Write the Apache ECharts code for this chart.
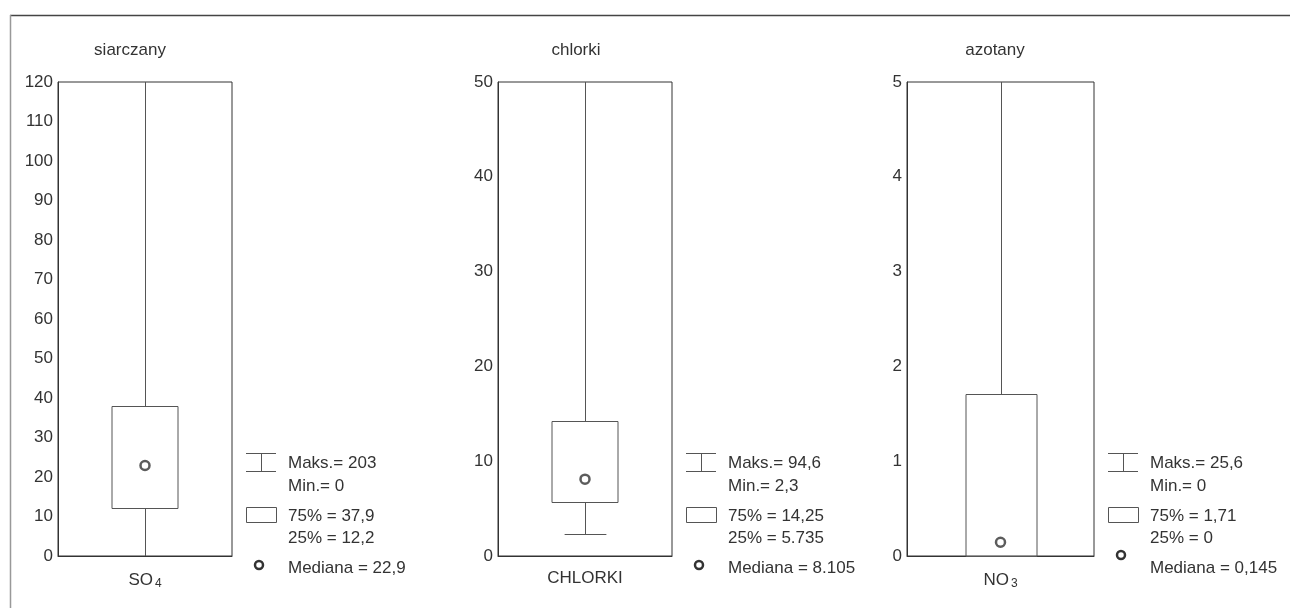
<!DOCTYPE html>
<html><head><meta charset="utf-8">
<script src="https://cdn.jsdelivr.net/npm/echarts@6/dist/echarts.min.js"></script>
<style>html,body{margin:0;padding:0;background:#fff}#c{width:1290px;height:608px}</style>
</head><body><div id="c"></div>
<script>
// ---- data ----
const titles = ['siarczany', 'chlorki', 'azotany'];
const categories = ['SO4', 'CHLORKI', 'NO3'];
const maks = [203, 94.6, 25.6];
const mins = [0, 2.3, 0];
const q75 = [37.9, 14.25, 1.71];
const q25 = [12.2, 5.735, 0];
const medians = [22.9, 8.105, 0.145];
const yMax = [120, 50, 5];
const yInterval = [10, 10, 1];
// decimal separator used in the legend text of each panel: [maks, min, 75%, 25%, median]
const legendSep = [[',', ',', ',', ',', ','], [',', ',', ',', '.', '.'], [',', ',', ',', ',', ',']];

// ---- layout ----
const FONT = '"Liberation Sans", Arial, sans-serif';
const TXT = '#333';
const grids = [
  { left: 58, top: 82, width: 174, height: 474 },
  { left: 498, top: 82, width: 174, height: 474 },
  { left: 907, top: 82, width: 187, height: 474 }
];
const titleX = [130, 576, 995];
const legendIconX = [246, 686, 1108];
const medLegendDy = [0, 0, -10];

function fmt(v, sep) { return String(v).replace('.', sep); }
function cr(v) { return Math.round(v) + 0.5; }

const chart = echarts.init(document.getElementById('c'), null, { renderer: 'canvas' });

const xAxes = [], yAxes = [], series = [], graphics = [];
grids.forEach((g, i) => {
  xAxes.push({
    type: 'category', gridIndex: i, data: [categories[i]], boundaryGap: true,
    axisLine: { show: true, lineStyle: { color: '#333', width: 1 } },
    axisTick: { show: false },
    axisLabel: {
      margin: 14, color: TXT, fontFamily: FONT, fontSize: 17,
      formatter: v => v.replace(/([A-Z]+)(\d+)/, (m, a, d) => '{n|' + a + '}{s|' + d + '}'),
      rich: {
        n: { fontSize: 17, fontFamily: FONT, color: TXT, lineHeight: 20 },
        s: { fontSize: 12, fontFamily: FONT, color: TXT, verticalAlign: 'bottom', lineHeight: 20, padding: [6, 0, 0, 2] }
      }
    },
    splitLine: { show: false }
  });
  yAxes.push({
    type: 'value', gridIndex: i, min: 0, max: yMax[i], interval: yInterval[i],
    axisLine: { show: true, lineStyle: { color: '#333', width: 1 } },
    axisTick: { show: false },
    axisLabel: { margin: 5, color: TXT, fontFamily: FONT, fontSize: 17 },
    splitLine: { show: false }
  });
  const ym = yMax[i];
  series.push({
    type: 'custom', xAxisIndex: i, yAxisIndex: i, silent: true,
    data: [[0, mins[i], q25[i], medians[i], q75[i], maks[i]]],
    renderItem: function (params, api) {
      const x = api.value(0);
      const lo = api.value(1), a = api.value(2), b = api.value(4), hi = api.value(5);
      const band = api.size([1, 0])[0];
      const hw = band * 0.19, cw = band * 0.12;
      const cx = cr(api.coord([x, 0])[0]);
      const yTop = api.coord([x, Math.min(hi, ym)])[1];
      const yBot = api.coord([x, Math.max(lo, 0)])[1];
      const yQ1 = api.coord([x, a])[1];
      const yQ3 = api.coord([x, b])[1];
      const st = { stroke: '#555', lineWidth: 1, fill: null };
      const ch = [];
      ch.push({ type: 'line', shape: { x1: cx, y1: yTop, x2: cx, y2: cr(yQ3) }, style: st });
      if (a > lo) ch.push({ type: 'line', shape: { x1: cx, y1: cr(yQ1), x2: cx, y2: yBot }, style: st });
      ch.push({ type: 'rect', shape: { x: Math.round(cx - hw), y: cr(yQ3), width: Math.round(2 * hw), height: Math.round(yQ1 - yQ3) }, style: st });
      if (hi < ym) ch.push({ type: 'line', shape: { x1: cx - cw, y1: cr(yTop), x2: cx + cw, y2: cr(yTop) }, style: st });
      if (lo > 0) ch.push({ type: 'line', shape: { x1: cx - cw, y1: cr(yBot), x2: cx + cw, y2: cr(yBot) }, style: st });
      return { type: 'group', children: ch };
    }
  });
  series.push({
    type: 'scatter', xAxisIndex: i, yAxisIndex: i, silent: true, z: 5,
    data: [[0, medians[i]]], symbol: 'circle', symbolSize: 9,
    itemStyle: { color: '#fff', borderColor: '#333', borderWidth: 2.5 }
  });

  // title
  graphics.push({ type: 'text', x: titleX[i], y: 50, style: { text: titles[i], font: '17px ' + FONT, fill: TXT, align: 'center', verticalAlign: 'middle' } });

  // legend
  const L = legendIconX[i], T = L + 42, sep = legendSep[i];
  const gs = { stroke: '#555', lineWidth: 1, fill: null };
  graphics.push({ type: 'line', shape: { x1: L, y1: 453.5, x2: L + 30, y2: 453.5 }, style: gs });
  graphics.push({ type: 'line', shape: { x1: L + 15.5, y1: 453.5, x2: L + 15.5, y2: 471.5 }, style: gs });
  graphics.push({ type: 'line', shape: { x1: L, y1: 471.5, x2: L + 30, y2: 471.5 }, style: gs });
  graphics.push({ type: 'rect', shape: { x: L + 0.5, y: 507.5, width: 30, height: 15 }, style: gs });
  graphics.push({ type: 'circle', shape: { cx: L + 13, cy: 565 + medLegendDy[i], r: 4 }, style: { stroke: '#333', lineWidth: 2.5, fill: '#fff' } });
  const lines = [
    ['Maks.= ' + fmt(maks[i], sep[0]), 463],
    ['Min.= ' + fmt(mins[i], sep[1]), 486],
    ['75% = ' + fmt(q75[i], sep[2]), 516],
    ['25% = ' + fmt(q25[i], sep[3]), 538],
    ['Mediana = ' + fmt(medians[i], sep[4]), 568]
  ];
  lines.forEach(([t, y]) => graphics.push({ type: 'text', x: T, y: y, style: { text: t, font: '17px ' + FONT, fill: TXT, align: 'left', verticalAlign: 'middle' } }));
});

// outer frame
graphics.push({ type: 'line', shape: { x1: 10, y1: 15.5, x2: 1290, y2: 15.5 }, style: { stroke: '#444', lineWidth: 1.5 } });
graphics.push({ type: 'line', shape: { x1: 10.5, y1: 15, x2: 10.5, y2: 608 }, style: { stroke: '#999', lineWidth: 1.5 } });

chart.setOption({
  backgroundColor: '#fff',
  animation: false,
  grid: grids.map(g => Object.assign({ show: true, borderColor: '#333', borderWidth: 1, backgroundColor: 'transparent', containLabel: false }, g)),
  xAxis: xAxes,
  yAxis: yAxes,
  series: series,
  graphic: graphics
});
</script>
</body></html>
